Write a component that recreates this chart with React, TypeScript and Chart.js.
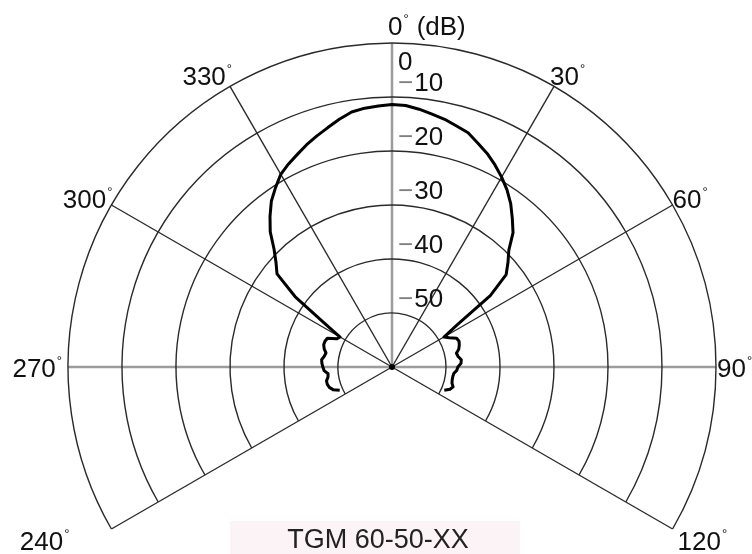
import React, { useEffect, useRef } from "react";
import { Chart, registerables } from "chart.js";

Chart.register(...registerables);

// ---------- data ----------
const STEP_DEG = 3;
const angleCategories: string[] = Array.from({ length: 360 / STEP_DEG }, (_, i) => `${i * STEP_DEG}°`);

// measured level (dB), clockwise 0°..114° every 3°
const levelsFrontRight: number[] = [
  -11.4, -11.5, -12.0, -12.6, -13.1, -13.8, -14.4, -15.6, -16.7, -18.0,
  -19.4, -20.9, -22.6, -24.6, -26.5, -29.4, -31.1, -32.8, -37.5, -45.5,
  -48.9, -48.1, -46.9, -46.7, -46.9, -47.2, -47.8, -47.6, -47.1, -47.2,
  -47.8, -48.0, -48.5, -48.6, -48.6, -48.5, -48.1, -48.5, -49.4,
];
// measured level (dB), 246°..357° every 3°
const levelsFrontLeft: number[] = [
  -49.4, -48.3, -47.8, -47.6, -47.6, -48.0, -48.1, -47.4, -47.2, -47.0,
  -46.9, -47.3, -47.5, -47.0, -46.7, -46.7, -46.9, -48.5, -48.9, -45.0,
  -37.8, -32.6, -31.1, -29.1, -26.3, -24.1, -22.0, -20.4, -18.8, -17.8,
  -16.9, -15.9, -15.0, -14.1, -13.1, -12.2, -11.8, -11.6,
];

const ringLevels: number[] = [0, -10, -20, -30, -40, -50];
const ringLabels: string[] = ["0", "10", "20", "30", "40", "50"];
const spokeAngles: number[] = [0, 30, 60, 90, 120, 240, 270, 300, 330];
const axisSpokeAngles: number[] = [0, 90, 270];
const angleTickLabels: string[] = ["0", "30", "60", "90", "120", "240", "270", "300", "330"];
const unitLabel = "(dB)";
const modelName = "TGM 60-50-XX";
const SCALE_MIN = -60;
const SCALE_MAX = 0;
const ARC_FROM_DEG = 240;
const ARC_TO_DEG = 120;

const gapCount = angleCategories.length - levelsFrontRight.length - levelsFrontLeft.length;
const patternData: (number | null)[] = [
  ...levelsFrontRight,
  ...Array(gapCount).fill(null),
  ...levelsFrontLeft,
];

// ---------- layout / style ----------
const FONT = "'Liberation Sans', Arial, Helvetica, sans-serif";
const angleLabelLayout: Record<number, { dx: number; dy: number; align: "left" | "right" }> = {
  0: { dx: -4, dy: -8, align: "left" },
  30: { dx: -4, dy: -1, align: "left" },
  60: { dx: 0, dy: 3, align: "left" },
  90: { dx: 1, dy: 10, align: "left" },
  120: { dx: 5, dy: 21, align: "left" },
  240: { dx: -42, dy: 21, align: "right" },
  270: { dx: -6, dy: 10, align: "right" },
  300: { dx: 1, dy: 3, align: "right" },
  330: { dx: 2, dy: -1, align: "right" },
};

const polarDecor = {
  id: "polarDecor",
  beforeDatasetsDraw(chart: any) {
    const s = chart.scales.r;
    const ctx = chart.ctx as CanvasRenderingContext2D;
    const a0 = s.getIndexAngle(ARC_FROM_DEG / STEP_DEG) - Math.PI / 2;
    const a1 = s.getIndexAngle(ARC_TO_DEG / STEP_DEG) - Math.PI / 2;
    ctx.save();
    ctx.strokeStyle = "#2a2a2a";
    ctx.lineWidth = 1.4;
    ringLevels.forEach((lv) => {
      const r = s.getDistanceFromCenterForValue(lv);
      ctx.beginPath();
      ctx.arc(s.xCenter, s.yCenter, r, a0, a1, false);
      ctx.stroke();
    });
    ctx.restore();
  },
  afterDatasetsDraw(chart: any) {
    const s = chart.scales.r;
    const ctx = chart.ctx as CanvasRenderingContext2D;
    ctx.save();
    ctx.fillStyle = "#000";
    ctx.beginPath();
    ctx.arc(s.xCenter, s.yCenter, 3, 0, Math.PI * 2);
    ctx.fill();
    ctx.restore();
  },
  afterDraw(chart: any) {
    const s = chart.scales.r;
    const ctx = chart.ctx as CanvasRenderingContext2D;
    ctx.save();
    ctx.textBaseline = "alphabetic";
    ctx.textAlign = "left";

    // radial tick labels
    ringLevels.forEach((lv, i) => {
      const r = s.getDistanceFromCenterForValue(lv);
      const x = s.xCenter + 6;
      ctx.font = `26px ${FONT}`;
      if (lv === SCALE_MAX) {
        const y = s.yCenter - r + 27;
        ctx.fillStyle = "#111";
        ctx.fillText(ringLabels[i], x, y);
      } else {
        const y = s.yCenter - r - 6;
        ctx.fillStyle = "#808080";
        ctx.fillText("\u2212", x, y);
        const w = ctx.measureText("\u2212").width;
        ctx.fillStyle = "#111";
        ctx.fillText(ringLabels[i], x + w + 1, y);
      }
    });

    // angle labels
    const outer = s.getDistanceFromCenterForValue(SCALE_MAX);
    spokeAngles.forEach((deg, i) => {
      const p = s.getPointPosition(deg / STEP_DEG, outer);
      const lay = angleLabelLayout[deg];
      const txt = angleTickLabels[i];
      ctx.font = `26px ${FONT}`;
      const w = ctx.measureText(txt).width;
      ctx.font = `13px ${FONT}`;
      const wd = ctx.measureText("°").width;
      const total = w + 1 + wd;
      const bx = lay.align === "left" ? p.x + lay.dx : p.x + lay.dx - total;
      const by = p.y + lay.dy;
      ctx.fillStyle = "#111";
      ctx.font = `26px ${FONT}`;
      ctx.fillText(txt, bx, by);
      ctx.font = `13px ${FONT}`;
      ctx.fillText("°", bx + w + 1, by - 12);
      if (deg === 0) {
        ctx.font = `26px ${FONT}`;
        ctx.fillText(unitLabel, bx + total + 8, by);
      }
    });

    // model name
    ctx.fillStyle = "#fcf3f7";
    ctx.fillRect(230, 521, 290, 40);
    ctx.fillStyle = "#222";
    ctx.font = `27px ${FONT}`;
    ctx.textAlign = "center";
    ctx.fillText(modelName, 378, 548);
    ctx.restore();
  },
};

export default function App() {
  const ref = useRef<HTMLCanvasElement>(null);
  useEffect(() => {
    const chart = new Chart(ref.current as HTMLCanvasElement, {
      type: "radar",
      data: {
        labels: angleCategories,
        datasets: [
          {
            data: patternData,
            borderColor: "#000",
            borderWidth: 3,
            pointRadius: 0,
            pointHoverRadius: 0,
            fill: false,
            spanGaps: false,
            tension: 0,
            borderJoinStyle: "round",
          } as any,
        ],
      },
      options: {
        responsive: false,
        animation: false,
        layout: { padding: { left: 36, right: 4, top: 43, bottom: 43 } },
        plugins: { legend: { display: false }, tooltip: { enabled: false } },
        scales: {
          r: {
            min: SCALE_MIN,
            max: SCALE_MAX,
            startAngle: 0,
            ticks: { display: false, stepSize: 10 },
            grid: { display: false },
            pointLabels: { display: false },
            angleLines: {
              display: true,
              color: (c: any) => {
                const a = c.index * STEP_DEG;
                return axisSpokeAngles.includes(a) ? "#9c9c9c" : "#2a2a2a";
              },
              lineWidth: (c: any) => {
                const a = c.index * STEP_DEG;
                if (axisSpokeAngles.includes(a)) return 2.5;
                if (spokeAngles.includes(a)) return 1.4;
                return 0;
              },
            },
          } as any,
        },
      },
      plugins: [polarDecor],
    });
    return () => chart.destroy();
  }, []);
  return (
    <div
      style={{
        position: "fixed",
        left: 0,
        top: 0,
        width: 752,
        height: 554,
        overflow: "hidden",
        background: "#fff",
      }}
    >
      <canvas ref={ref} width={752} height={734} style={{ display: "block" }} />
    </div>
  );
}
